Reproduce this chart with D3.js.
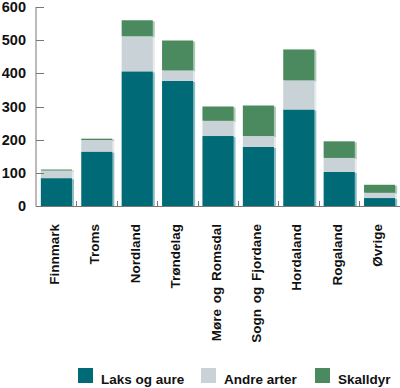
<!DOCTYPE html>
<html><head><meta charset="utf-8">
<script src="https://cdn.jsdelivr.net/npm/d3@7"></script>
<style>body{margin:0;background:#fff}svg{display:block}text{font-family:"Liberation Sans",Arial,sans-serif;font-weight:bold;fill:#111}</style>
</head><body>
<script>
const categories = ["Finnmark","Troms","Nordland","Trøndelag","Møre og Romsdal","Sogn og Fjordane","Hordaland","Rogaland","Øvrige"];
const laksOgAure = [84,164,406,377,211,178,291,103,24];
const andreArter = [23,35,106,32,46,33,88,42,16];
const skalldyr   = [3,4,48,90,43,92,93,50,24];
const seriesNames = ["Laks og aure","Andre arter","Skalldyr"];
const yTicks = [0,100,200,300,400,500,600];
const colors = ["#006b77","#c9d3d7","#4b8a5f"];

const W=400,H=388;
const svg=d3.select("body").append("svg").attr("width",W).attr("height",H);
const x=d3.scaleBand().domain(categories).range([36,400]).paddingInner(0.23).paddingOuter(0.12);
const y=d3.scaleLinear().domain([0,600]).range([206,7]);

const rows=categories.map((c,i)=>({cat:c,"Laks og aure":laksOgAure[i],"Andre arter":andreArter[i],"Skalldyr":skalldyr[i]}));
const stack=d3.stack().keys(seriesNames)(rows);

const g=svg.append("g");
stack.forEach((s,si)=>{
  g.selectAll(null).data(s).enter().append("rect")
   .attr("x",d=>x(d.data.cat)+2).attr("y",d=>y(d[1])+1)
   .attr("width",x.bandwidth()).attr("height",d=>y(d[0])-y(d[1]))
   .attr("fill",colors[si]).attr("opacity",0.45);
});
stack.forEach((s,si)=>{
  g.selectAll(null).data(s).enter().append("rect")
   .attr("x",d=>x(d.data.cat)).attr("y",d=>y(d[1]))
   .attr("width",x.bandwidth()).attr("height",d=>y(d[0])-y(d[1]))
   .attr("fill",colors[si]);
});

const ax="#777";
svg.append("line").attr("x1",36).attr("x2",36).attr("y1",7).attr("y2",206.5).attr("stroke",ax);
svg.append("line").attr("x1",36).attr("x2",400).attr("y1",206.5).attr("y2",206.5).attr("stroke",ax);
svg.selectAll(".yt").data(yTicks).enter().append("line")
  .attr("x1",36).attr("x2",44).attr("y1",d=>Math.round(y(d))+0.5).attr("y2",d=>Math.round(y(d))+0.5).attr("stroke",ax);
svg.selectAll(".yl").data(yTicks).enter().append("text")
  .attr("x",26).attr("y",d=>y(d)+5).attr("text-anchor","end").attr("font-size",14.5).text(d=>d);
const step=x.step();
svg.selectAll(".xt").data(categories).enter().append("line")
  .attr("x1",(d,i)=>Math.round(x(categories[0])-x.paddingOuter()*step+(i+1)*step)+0.5)
  .attr("x2",(d,i)=>Math.round(x(categories[0])-x.paddingOuter()*step+(i+1)*step)+0.5)
  .attr("y1",201).attr("y2",206.5).attr("stroke",ax);
svg.selectAll(".xl").data(categories).enter().append("text")
  .attr("transform",d=>`translate(${x(d)+x.bandwidth()/2+2.5},224) rotate(-90)`)
  .attr("text-anchor","end").attr("font-size",13.5).attr("word-spacing",2).text(d=>d);

const legX=[78,201,315];
seriesNames.forEach((n,i)=>{
  svg.append("rect").attr("x",legX[i]).attr("y",368).attr("width",15).attr("height",15).attr("fill",colors[i]);
  svg.append("text").attr("x",legX[i]+23).attr("y",384).attr("font-size",13.5).text(n);
});
</script>
</body></html>
